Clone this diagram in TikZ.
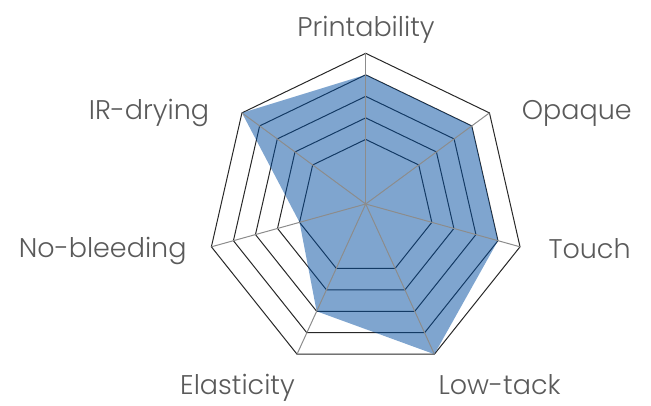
\documentclass[tikz,border=0pt]{standalone}
\usepackage{fontspec}
\setmainfont{Poppins}[UprightFont=* Light]
\definecolor{labelgray}{RGB}{90,90,90}
\definecolor{spokegray}{RGB}{140,140,140}
\definecolor{ringblack}{RGB}{40,40,40}
\definecolor{areablue}{RGB}{0,76,160}
\tikzset{
  ring/.style={draw=ringblack, line width=1pt, line join=miter},
  spoke/.style={draw=spokegray, line width=1pt},
  area/.style={fill=areablue, fill opacity=0.5},
  axislabel/.style={text=labelgray, font=\fontsize{27}{30}\selectfont, inner sep=0pt}
}
\begin{document}
\begin{tikzpicture}[x=1pt,y=1pt]
\useasboundingbox (0,0) rectangle (651,406);
\coordinate (center) at (365.7,202);
\foreach \i in {0,...,6}{
  \foreach \v in {3,...,7}{
    \coordinate (r\i-\v) at ({365.7+\v*22.614*cos(90-\i*360/7)},{202+\v*22.614*(sin(90-\i*360/7)-0.048)});
  }
}
\foreach \v in {3,...,7}
  \draw[ring] (r0-\v)--(r1-\v)--(r2-\v)--(r3-\v)--(r4-\v)--(r5-\v)--(r6-\v)--cycle;
\fill[area] (r0-6)--(r1-6)--(r2-6)--(r3-7)--(r4-5)--(r5-3)--(r6-7)--cycle;
\foreach \i in {0,...,6}
  \draw[spoke] (center)--(r\i-7);
\node[axislabel, anchor=base] (printability) at (366,369.3) {Printability};
\node[axislabel, anchor=base west] (opaque) at (521.7,286) {Opaque};
\node[axislabel, anchor=base west] (touch) at (548.3,147.7) {Touch};
\node[axislabel, anchor=base west] (lowtack) at (438.3,11) {Low-tack};
\node[axislabel, anchor=base east] (elasticity) at (295,11) {Elasticity};
\node[axislabel, anchor=base east] (nobleeding) at (186.7,148.3) {No-bleeding};
\node[axislabel, anchor=base east] (irdrying) at (209.3,286.7) {IR-drying};
\end{tikzpicture}
\end{document}
